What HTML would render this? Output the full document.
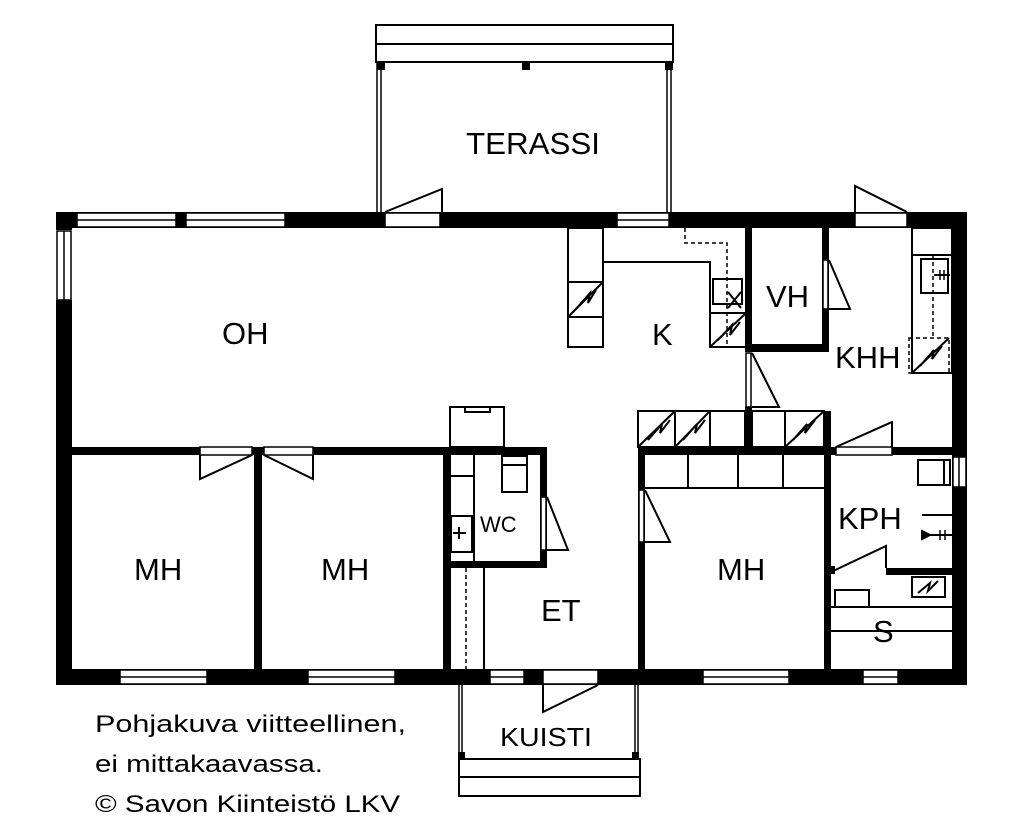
<!DOCTYPE html>
<html><head><meta charset="utf-8"><style>
html,body{margin:0;padding:0;background:#fff}
svg{display:block}
text{font-family:"Liberation Sans","DejaVu Sans",sans-serif;fill:#000}
</style></head><body>
<svg width="1031" height="829" viewBox="0 0 1031 829" xmlns="http://www.w3.org/2000/svg">
<rect width="1031" height="829" fill="#fff"/>
<g fill="none" stroke="#000" stroke-width="2">
<!-- Terrace -->
<rect x="376" y="25" width="297" height="37"/>
<line x1="376" y1="44" x2="673" y2="44"/>
<line x1="377" y1="62" x2="377" y2="212" stroke-width="1.5"/>
<line x1="381" y1="62" x2="381" y2="212" stroke-width="1.5"/>
<line x1="667" y1="62" x2="667" y2="212" stroke-width="1.5"/>
<line x1="671" y1="62" x2="671" y2="212" stroke-width="1.5"/>
</g>
<g fill="#000">
<rect x="377" y="62" width="8" height="8"/><rect x="522" y="62" width="8" height="8"/><rect x="665" y="62" width="8" height="8"/>
<!-- outer walls -->
<rect x="56" y="212" width="911" height="16"/>
<rect x="56" y="300" width="16" height="385"/>
<rect x="56" y="212" width="16" height="18"/>
<rect x="56" y="669" width="911" height="16"/>
<rect x="952" y="212" width="15" height="473"/>
<!-- mid wall -->
<rect x="56" y="447" width="491" height="8"/>
<rect x="638" y="447" width="314" height="8"/>
<!-- MH divider -->
<rect x="254" y="447" width="8" height="222"/>
<rect x="443" y="447" width="8" height="222"/>
<!-- WC -->
<rect x="540" y="447" width="7" height="121"/>
<rect x="443" y="561" width="104" height="7"/>
<!-- MH right room walls -->
<rect x="638" y="447" width="7" height="222"/>
<rect x="824" y="447" width="7" height="222"/>
<!-- VH -->
<rect x="745" y="228" width="7" height="124"/>
<rect x="745" y="344" width="84" height="8"/>
<rect x="822" y="228" width="7" height="124"/>
<rect x="745" y="407" width="7" height="44"/>
<rect x="824" y="411" width="7" height="40"/>
<!-- S wall -->
<rect x="886" y="568" width="66" height="7"/>
<rect x="831" y="566" width="4" height="8"/>
<!-- Kuisti posts -->
<rect x="458" y="752" width="7" height="7"/><rect x="632" y="752" width="7" height="7"/>
</g>
<!-- windows/doors openings (white) -->
<g fill="#fff" stroke="#000" stroke-width="1.5">
<rect x="77" y="213" width="99" height="14"/><line x1="77" y1="220" x2="176" y2="220"/>
<rect x="186" y="213" width="99" height="14"/><line x1="186" y1="220" x2="285" y2="220"/>
<rect x="385" y="213" width="55" height="14"/>
<rect x="617" y="213" width="52" height="14"/><line x1="617" y1="220" x2="669" y2="220"/>
<rect x="855" y="213" width="52" height="14"/>
<rect x="57" y="231" width="14" height="69"/><line x1="64" y1="231" x2="64" y2="300"/>
<rect x="120" y="670" width="87" height="14"/><line x1="120" y1="677" x2="207" y2="677"/>
<rect x="308" y="670" width="87" height="14"/><line x1="308" y1="677" x2="395" y2="677"/>
<rect x="490" y="670" width="34" height="14"/><line x1="490" y1="677" x2="524" y2="677"/>
<rect x="543" y="670" width="55" height="14"/>
<rect x="703" y="670" width="86" height="14"/><line x1="703" y1="677" x2="789" y2="677"/>
<rect x="863" y="670" width="35" height="14"/><line x1="863" y1="677" x2="898" y2="677"/>
<rect x="953" y="457" width="13" height="30"/><line x1="959" y1="457" x2="959" y2="487"/>
<rect x="200" y="447" width="52" height="8"/>
<rect x="264" y="447" width="49" height="8"/>
<rect x="541" y="497" width="5" height="53"/>
<rect x="639" y="490" width="5" height="52"/>
<rect x="823" y="260" width="5" height="49"/>
<rect x="746" y="353" width="5" height="54"/>
<rect x="836" y="447" width="56" height="8"/>
</g>
<g fill="none" stroke="#000" stroke-width="2">
<!-- door leaves -->
<polyline points="385,212 442,189 442,212"/>
<polyline points="855,212 855,186 907,212"/>
<polyline points="200,455 200,479 252,455"/>
<polyline points="264,455 313,479 313,455"/>
<polyline points="547,497 568,550 547,550"/>
<polyline points="645,490 670,542 645,542"/>
<polyline points="829,260 850,309 829,309"/>
<polyline points="752,353 779,407 752,407"/>
<polyline points="836,447 892,422 892,447"/>
<polyline points="831,572 886,546 886,568"/>
<polyline points="543,685 543,712 598,685"/>
<!-- Kuisti -->
<line x1="459" y1="685" x2="459" y2="759" stroke-width="1.5"/><line x1="462" y1="685" x2="462" y2="759" stroke-width="1.5"/>
<line x1="635" y1="685" x2="635" y2="759" stroke-width="1.5"/><line x1="638" y1="685" x2="638" y2="759" stroke-width="1.5"/>
<rect x="459" y="759" width="181" height="37"/><line x1="459" y1="777" x2="640" y2="777"/>
<!-- kitchen -->
<rect x="568" y="228" width="35" height="119"/>
<line x1="568" y1="282" x2="603" y2="282"/><line x1="568" y1="317" x2="603" y2="317"/>
<line x1="568" y1="317" x2="603" y2="282"/>
<polyline points="576,309 590,293 588,303 596,290"/>
<polyline points="603,262 710,262 710,347 745,347"/>
<line x1="710" y1="313" x2="745" y2="313"/><line x1="710" y1="347" x2="745" y2="314"/>
<polyline points="718,340 732,325 730,335 740,322"/>
<rect x="713" y="279" width="29" height="25"/>
<line x1="728" y1="292" x2="741" y2="308"/><line x1="741" y1="292" x2="728" y2="308"/>
<polyline points="685,228 685,243 727,243 727,345" stroke-dasharray="4,3" stroke-width="1.5"/>
<!-- cabinets above mid wall -->
<rect x="638" y="411" width="107" height="36"/>
<line x1="675" y1="411" x2="675" y2="447"/><line x1="710" y1="411" x2="710" y2="447"/>
<line x1="638" y1="447" x2="675" y2="411"/><line x1="675" y1="447" x2="710" y2="411"/>
<polyline points="648,440 662,424 660,433 670,420"/>
<polyline points="683,440 697,424 695,433 705,420"/>
<rect x="752" y="411" width="72" height="36"/>
<line x1="785" y1="411" x2="785" y2="447"/><line x1="785" y1="447" x2="824" y2="411"/>
<polyline points="793,440 807,424 805,433 815,420"/>
<!-- KHH -->
<rect x="912" y="228" width="40" height="145"/>
<line x1="912" y1="255" x2="952" y2="255"/>
<rect x="921" y="259" width="27" height="34"/>
<line x1="934" y1="275" x2="950" y2="275"/><line x1="940" y1="270" x2="940" y2="280" stroke-width="1.5"/><line x1="944" y1="270" x2="944" y2="280" stroke-width="1.5"/>
<line x1="933" y1="255" x2="933" y2="338" stroke-dasharray="4,3" stroke-width="1.5"/>
<rect x="909" y="338" width="40" height="35" stroke-dasharray="4,3" stroke-width="1.5"/>
<line x1="912" y1="373" x2="949" y2="338"/>
<polyline points="920,366 934,350 932,359 942,346"/>
<!-- WC -->
<line x1="474" y1="455" x2="474" y2="561"/>
<line x1="451" y1="476" x2="474" y2="476"/>
<rect x="451" y="516" width="21" height="36"/>
<line x1="453" y1="533" x2="466" y2="533"/><line x1="459" y1="527" x2="459" y2="539"/>
<rect x="502" y="456" width="25" height="36"/><line x1="502" y1="465" x2="527" y2="465"/>
<rect x="450" y="407" width="54" height="40"/>
<rect x="465" y="407" width="25" height="5"/>
<line x1="466" y1="568" x2="466" y2="669" stroke-dasharray="4,3" stroke-width="1.5"/>
<line x1="484" y1="568" x2="484" y2="669"/>
<!-- MH wardrobes -->
<line x1="645" y1="488" x2="824" y2="488"/>
<line x1="688" y1="455" x2="688" y2="488"/><line x1="738" y1="455" x2="738" y2="488"/><line x1="783" y1="455" x2="783" y2="488"/>
<!-- KPH -->
<rect x="918" y="460" width="32" height="25"/><line x1="944" y1="460" x2="944" y2="485"/>
<line x1="922" y1="515" x2="952" y2="515"/>
<line x1="926" y1="535" x2="952" y2="535"/>
<polygon points="922,531 922,539 930,535" fill="#000"/>
<line x1="940" y1="530" x2="940" y2="540" stroke-width="1.5"/><line x1="945" y1="530" x2="945" y2="540" stroke-width="1.5"/>
<!-- S -->
<rect x="912" y="577" width="33" height="20"/>
<polyline points="918,593 930,583 928,591 938,581"/>
<rect x="835" y="590" width="34" height="17"/>
<line x1="831" y1="607" x2="952" y2="607"/>
<line x1="831" y1="631" x2="952" y2="631"/>
</g>
<g font-size="31">
<text x="466" y="154" textLength="134" lengthAdjust="spacingAndGlyphs">TERASSI</text>
<text x="222" y="344">OH</text>
<text x="652" y="345">K</text>
<text x="766" y="307">VH</text>
<text x="835" y="368">KHH</text>
<text x="134" y="580">MH</text>
<text x="321" y="580">MH</text>
<text x="717" y="580">MH</text>
<text x="541" y="621">ET</text>
<text x="838" y="529">KPH</text>
<text x="873" y="642">S</text>
</g>
<text x="480" y="532" font-size="22">WC</text>
<text x="500" y="746" font-size="26" textLength="92" lengthAdjust="spacingAndGlyphs">KUISTI</text>
<g font-size="24">
<text x="95" y="732" textLength="311" lengthAdjust="spacingAndGlyphs">Pohjakuva viitteellinen,</text>
<text x="95" y="772" textLength="228" lengthAdjust="spacingAndGlyphs">ei mittakaavassa.</text>
<text x="95" y="812" textLength="305" lengthAdjust="spacingAndGlyphs">© Savon Kiinteistö LKV</text>
</g>
</svg>
</body></html>
